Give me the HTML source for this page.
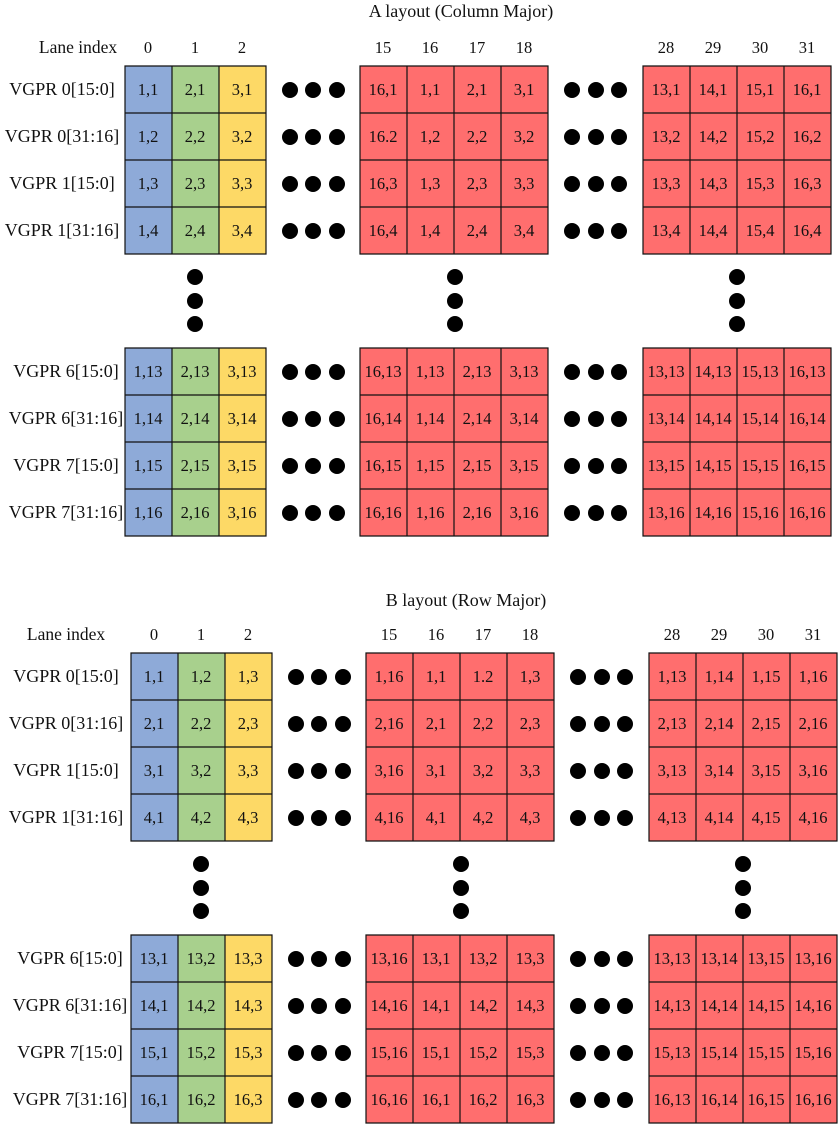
<!DOCTYPE html>
<html><head><meta charset="utf-8"><style>
html,body{margin:0;padding:0;background:#fff;}
svg{display:block;}
text{font-family:"Liberation Serif",serif;font-size:16.5px;fill:#111;}
.c{text-anchor:middle;}
.lb text,.lb{font-size:18px;}
.bl{fill:#8eaad8}.gr{fill:#a8d08d}.ye{fill:#fdd966}.rd{fill:#ff6e6e}
.ln{stroke:#111;stroke-width:1.2;fill:none}
</style></head><body>
<svg width="838" height="1129" viewBox="0 0 838 1129" xmlns="http://www.w3.org/2000/svg">
<defs>
<g id="grid">
  <rect class="bl" x="125" y="66" width="47" height="188"/>
  <rect class="gr" x="172" y="66" width="47" height="188"/>
  <rect class="ye" x="219" y="66" width="47" height="188"/>
  <rect class="rd" x="360" y="66" width="188" height="188"/>
  <rect class="rd" x="643" y="66" width="188" height="188"/>
  <rect class="bl" x="125" y="348" width="47" height="188"/>
  <rect class="gr" x="172" y="348" width="47" height="188"/>
  <rect class="ye" x="219" y="348" width="47" height="188"/>
  <rect class="rd" x="360" y="348" width="188" height="188"/>
  <rect class="rd" x="643" y="348" width="188" height="188"/>
  <path class="ln" d="M125 66h141v188h-141z M172 66v188 M219 66v188 M125 113h141 M125 160h141 M125 207h141
  M360 66h188v188h-188z M407 66v188 M454 66v188 M501 66v188 M360 113h188 M360 160h188 M360 207h188
  M643 66h188v188h-188z M690 66v188 M737 66v188 M784 66v188 M643 113h188 M643 160h188 M643 207h188
  M125 348h141v188h-141z M172 348v188 M219 348v188 M125 395h141 M125 442h141 M125 489h141
  M360 348h188v188h-188z M407 348v188 M454 348v188 M501 348v188 M360 395h188 M360 442h188 M360 489h188
  M643 348h188v188h-188z M690 348v188 M737 348v188 M784 348v188 M643 395h188 M643 442h188 M643 489h188"/>
  <g fill="#000">
    <circle cx="290" cy="90" r="8"/><circle cx="313" cy="90" r="8"/><circle cx="337" cy="90" r="8"/>
    <circle cx="290" cy="137" r="8"/><circle cx="313" cy="137" r="8"/><circle cx="337" cy="137" r="8"/>
    <circle cx="290" cy="184" r="8"/><circle cx="313" cy="184" r="8"/><circle cx="337" cy="184" r="8"/>
    <circle cx="290" cy="231" r="8"/><circle cx="313" cy="231" r="8"/><circle cx="337" cy="231" r="8"/>
    <circle cx="572" cy="90" r="8"/><circle cx="596" cy="90" r="8"/><circle cx="619" cy="90" r="8"/>
    <circle cx="572" cy="137" r="8"/><circle cx="596" cy="137" r="8"/><circle cx="619" cy="137" r="8"/>
    <circle cx="572" cy="184" r="8"/><circle cx="596" cy="184" r="8"/><circle cx="619" cy="184" r="8"/>
    <circle cx="572" cy="231" r="8"/><circle cx="596" cy="231" r="8"/><circle cx="619" cy="231" r="8"/>
    <circle cx="290" cy="372" r="8"/><circle cx="313" cy="372" r="8"/><circle cx="337" cy="372" r="8"/>
    <circle cx="290" cy="419" r="8"/><circle cx="313" cy="419" r="8"/><circle cx="337" cy="419" r="8"/>
    <circle cx="290" cy="466" r="8"/><circle cx="313" cy="466" r="8"/><circle cx="337" cy="466" r="8"/>
    <circle cx="290" cy="513" r="8"/><circle cx="313" cy="513" r="8"/><circle cx="337" cy="513" r="8"/>
    <circle cx="572" cy="372" r="8"/><circle cx="596" cy="372" r="8"/><circle cx="619" cy="372" r="8"/>
    <circle cx="572" cy="419" r="8"/><circle cx="596" cy="419" r="8"/><circle cx="619" cy="419" r="8"/>
    <circle cx="572" cy="466" r="8"/><circle cx="596" cy="466" r="8"/><circle cx="619" cy="466" r="8"/>
    <circle cx="572" cy="513" r="8"/><circle cx="596" cy="513" r="8"/><circle cx="619" cy="513" r="8"/>
    <circle cx="195" cy="277" r="8"/><circle cx="195" cy="301" r="8"/><circle cx="195" cy="324" r="8"/>
    <circle cx="455" cy="277" r="8"/><circle cx="455" cy="301" r="8"/><circle cx="455" cy="324" r="8"/>
    <circle cx="737" cy="277" r="8"/><circle cx="737" cy="301" r="8"/><circle cx="737" cy="324" r="8"/>
  </g>
  <g class="c">
    <text x="148" y="53">0</text><text x="195" y="53">1</text><text x="242" y="53">2</text>
    <text x="383" y="53">15</text><text x="430" y="53">16</text><text x="477" y="53">17</text><text x="524" y="53">18</text>
    <text x="666" y="53">28</text><text x="713" y="53">29</text><text x="760" y="53">30</text><text x="807" y="53">31</text>
  </g>
</g>
</defs>

<text class="c lb" x="461" y="17">A layout (Column Major)</text>
<use href="#grid"/>
<text x="78" y="53" class="c" style="font-size:17.5px">Lane index</text>
<g class="c lb">
<text x="62" y="95">VGPR 0[15:0]</text>
<text x="62" y="142">VGPR 0[31:16]</text>
<text x="62" y="189">VGPR 1[15:0]</text>
<text x="62" y="236">VGPR 1[31:16]</text>
<text x="66" y="377">VGPR 6[15:0]</text>
<text x="66" y="424">VGPR 6[31:16]</text>
<text x="66" y="471">VGPR 7[15:0]</text>
<text x="66" y="518">VGPR 7[31:16]</text>
</g>
<g class="c">
<text x="148" y="95">1,1</text><text x="195" y="95">2,1</text><text x="242" y="95">3,1</text>
<text x="383" y="95">16,1</text><text x="430" y="95">1,1</text><text x="477" y="95">2,1</text><text x="524" y="95">3,1</text>
<text x="666" y="95">13,1</text><text x="713" y="95">14,1</text><text x="760" y="95">15,1</text><text x="807" y="95">16,1</text>

<text x="148" y="142">1,2</text><text x="195" y="142">2,2</text><text x="242" y="142">3,2</text>
<text x="383" y="142">16.2</text><text x="430" y="142">1,2</text><text x="477" y="142">2,2</text><text x="524" y="142">3,2</text>
<text x="666" y="142">13,2</text><text x="713" y="142">14,2</text><text x="760" y="142">15,2</text><text x="807" y="142">16,2</text>

<text x="148" y="189">1,3</text><text x="195" y="189">2,3</text><text x="242" y="189">3,3</text>
<text x="383" y="189">16,3</text><text x="430" y="189">1,3</text><text x="477" y="189">2,3</text><text x="524" y="189">3,3</text>
<text x="666" y="189">13,3</text><text x="713" y="189">14,3</text><text x="760" y="189">15,3</text><text x="807" y="189">16,3</text>

<text x="148" y="236">1,4</text><text x="195" y="236">2,4</text><text x="242" y="236">3,4</text>
<text x="383" y="236">16,4</text><text x="430" y="236">1,4</text><text x="477" y="236">2,4</text><text x="524" y="236">3,4</text>
<text x="666" y="236">13,4</text><text x="713" y="236">14,4</text><text x="760" y="236">15,4</text><text x="807" y="236">16,4</text>

<text x="148" y="377">1,13</text><text x="195" y="377">2,13</text><text x="242" y="377">3,13</text>
<text x="383" y="377">16,13</text><text x="430" y="377">1,13</text><text x="477" y="377">2,13</text><text x="524" y="377">3,13</text>
<text x="666" y="377">13,13</text><text x="713" y="377">14,13</text><text x="760" y="377">15,13</text><text x="807" y="377">16,13</text>

<text x="148" y="424">1,14</text><text x="195" y="424">2,14</text><text x="242" y="424">3,14</text>
<text x="383" y="424">16,14</text><text x="430" y="424">1,14</text><text x="477" y="424">2,14</text><text x="524" y="424">3,14</text>
<text x="666" y="424">13,14</text><text x="713" y="424">14,14</text><text x="760" y="424">15,14</text><text x="807" y="424">16,14</text>

<text x="148" y="471">1,15</text><text x="195" y="471">2,15</text><text x="242" y="471">3,15</text>
<text x="383" y="471">16,15</text><text x="430" y="471">1,15</text><text x="477" y="471">2,15</text><text x="524" y="471">3,15</text>
<text x="666" y="471">13,15</text><text x="713" y="471">14,15</text><text x="760" y="471">15,15</text><text x="807" y="471">16,15</text>

<text x="148" y="518">1,16</text><text x="195" y="518">2,16</text><text x="242" y="518">3,16</text>
<text x="383" y="518">16,16</text><text x="430" y="518">1,16</text><text x="477" y="518">2,16</text><text x="524" y="518">3,16</text>
<text x="666" y="518">13,16</text><text x="713" y="518">14,16</text><text x="760" y="518">15,16</text><text x="807" y="518">16,16</text>
</g>

<text class="c lb" x="466" y="606">B layout (Row Major)</text>
<g transform="translate(6,587)">
<use href="#grid"/>
<text x="60" y="53" class="c" style="font-size:17.5px">Lane index</text>
<g class="c lb">
<text x="60" y="95">VGPR 0[15:0]</text>
<text x="60" y="142">VGPR 0[31:16]</text>
<text x="60" y="189">VGPR 1[15:0]</text>
<text x="60" y="236">VGPR 1[31:16]</text>
<text x="64" y="377">VGPR 6[15:0]</text>
<text x="64" y="424">VGPR 6[31:16]</text>
<text x="64" y="471">VGPR 7[15:0]</text>
<text x="64" y="518">VGPR 7[31:16]</text>
</g>
<g class="c">
<text x="148" y="95">1,1</text><text x="195" y="95">1,2</text><text x="242" y="95">1,3</text>
<text x="383" y="95">1,16</text><text x="430" y="95">1,1</text><text x="477" y="95">1.2</text><text x="524" y="95">1,3</text>
<text x="666" y="95">1,13</text><text x="713" y="95">1,14</text><text x="760" y="95">1,15</text><text x="807" y="95">1,16</text>

<text x="148" y="142">2,1</text><text x="195" y="142">2,2</text><text x="242" y="142">2,3</text>
<text x="383" y="142">2,16</text><text x="430" y="142">2,1</text><text x="477" y="142">2,2</text><text x="524" y="142">2,3</text>
<text x="666" y="142">2,13</text><text x="713" y="142">2,14</text><text x="760" y="142">2,15</text><text x="807" y="142">2,16</text>

<text x="148" y="189">3,1</text><text x="195" y="189">3,2</text><text x="242" y="189">3,3</text>
<text x="383" y="189">3,16</text><text x="430" y="189">3,1</text><text x="477" y="189">3,2</text><text x="524" y="189">3,3</text>
<text x="666" y="189">3,13</text><text x="713" y="189">3,14</text><text x="760" y="189">3,15</text><text x="807" y="189">3,16</text>

<text x="148" y="236">4,1</text><text x="195" y="236">4,2</text><text x="242" y="236">4,3</text>
<text x="383" y="236">4,16</text><text x="430" y="236">4,1</text><text x="477" y="236">4,2</text><text x="524" y="236">4,3</text>
<text x="666" y="236">4,13</text><text x="713" y="236">4,14</text><text x="760" y="236">4,15</text><text x="807" y="236">4,16</text>

<text x="148" y="377">13,1</text><text x="195" y="377">13,2</text><text x="242" y="377">13,3</text>
<text x="383" y="377">13,16</text><text x="430" y="377">13,1</text><text x="477" y="377">13,2</text><text x="524" y="377">13,3</text>
<text x="666" y="377">13,13</text><text x="713" y="377">13,14</text><text x="760" y="377">13,15</text><text x="807" y="377">13,16</text>

<text x="148" y="424">14,1</text><text x="195" y="424">14,2</text><text x="242" y="424">14,3</text>
<text x="383" y="424">14,16</text><text x="430" y="424">14,1</text><text x="477" y="424">14,2</text><text x="524" y="424">14,3</text>
<text x="666" y="424">14,13</text><text x="713" y="424">14,14</text><text x="760" y="424">14,15</text><text x="807" y="424">14,16</text>

<text x="148" y="471">15,1</text><text x="195" y="471">15,2</text><text x="242" y="471">15,3</text>
<text x="383" y="471">15,16</text><text x="430" y="471">15,1</text><text x="477" y="471">15,2</text><text x="524" y="471">15,3</text>
<text x="666" y="471">15,13</text><text x="713" y="471">15,14</text><text x="760" y="471">15,15</text><text x="807" y="471">15,16</text>

<text x="148" y="518">16,1</text><text x="195" y="518">16,2</text><text x="242" y="518">16,3</text>
<text x="383" y="518">16,16</text><text x="430" y="518">16,1</text><text x="477" y="518">16,2</text><text x="524" y="518">16,3</text>
<text x="666" y="518">16,13</text><text x="713" y="518">16,14</text><text x="760" y="518">16,15</text><text x="807" y="518">16,16</text>
</g>
</g>
</svg>
</body></html>
